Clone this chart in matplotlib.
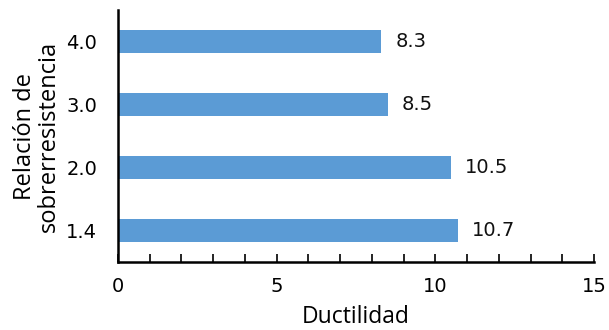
import matplotlib.pyplot as plt
from matplotlib.ticker import MultipleLocator

relaciones = ["1.4", "2.0", "3.0", "4.0"]
ductilidad = [10.7, 10.5, 8.5, 8.3]

fig = plt.figure(figsize=(6.09, 3.30), dpi=100)
ax = fig.add_axes([118 / 609, 1 - 262 / 330, 476 / 609, 252 / 330])

pos = range(len(relaciones))
ax.barh(pos, ductilidad, height=0.35, color="#5B9BD5")
for y, v in zip(pos, ductilidad):
    ax.text(v + 0.44, y, f"{v:.1f}", va="center", ha="left",
            fontsize=14, family="DejaVu Sans", color="#111111")

ax.set_xlim(0, 15)
ax.set_ylim(-0.5, 3.5)
ax.set_yticks(list(pos))
ax.set_yticklabels(relaciones)
ax.xaxis.set_major_locator(MultipleLocator(5))
ax.xaxis.set_minor_locator(MultipleLocator(1))
ax.tick_params(axis="x", which="both", direction="in", length=5.5, width=1.2,
               labelsize=14, pad=11)
ax.tick_params(axis="y", length=0, labelsize=14, pad=15)

for side in ("top", "right"):
    ax.spines[side].set_visible(False)
for side in ("left", "bottom"):
    ax.spines[side].set_linewidth(1.8)

ax.set_xlabel("Ductilidad", family="Open Sans", fontsize=16.5, labelpad=6)
ax.set_ylabel("Relación de\nsobrerresistencia", family="Open Sans",
              fontsize=17, labelpad=4, linespacing=0.98)

fig.savefig("out.png", dpi=100)
